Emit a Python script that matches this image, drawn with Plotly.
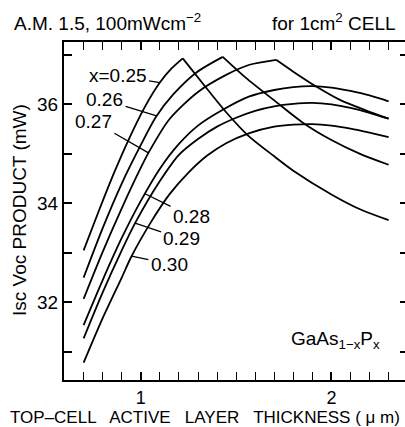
import numpy as np
import plotly.graph_objects as go

# ---- data (thickness in um, Isc*Voc in mW) ----
comp_labels = ["x=0.25", "0.26", "0.27", "0.28", "0.29", "0.30"]

thick_025_rise = [0.70, 0.78, 0.86, 0.94, 1.02, 1.10, 1.16, 1.22]
prod_025_rise = [33.05, 33.85, 34.62, 35.32, 35.94, 36.44, 36.72, 36.93]
thick_025_fall = [1.22, 1.35, 1.45, 1.56, 1.70, 1.80, 2.00, 2.15, 2.30]
prod_025_fall = [36.93, 36.30, 35.83, 35.38, 34.95, 34.66, 34.18, 33.88, 33.66]

thick_026_rise = [0.70, 0.80, 0.90, 1.00, 1.08, 1.17, 1.29, 1.43]
prod_026_rise = [32.50, 33.50, 34.40, 35.18, 35.75, 36.20, 36.64, 36.96]
thick_026_fall = [1.43, 1.55, 1.70, 1.85, 2.00, 2.15, 2.30]
prod_026_fall = [36.96, 36.54, 36.08, 35.63, 35.28, 35.00, 34.78]

thick_027_rise = [0.70, 0.80, 0.90, 1.00, 1.04, 1.15, 1.30, 1.45, 1.57, 1.71]
prod_027_rise = [32.07, 33.02, 33.90, 34.72, 35.02, 35.70, 36.25, 36.60, 36.80, 36.90]
thick_027_fall = [1.71, 1.80, 1.92, 2.05, 2.18, 2.30]
prod_027_fall = [36.90, 36.66, 36.36, 36.08, 35.88, 35.71]

thick_028 = [0.70, 0.80, 0.90, 1.00, 1.10, 1.20, 1.30, 1.43, 1.57, 1.70, 1.80, 1.90, 2.00, 2.10, 2.20, 2.30]
prod_028 = [31.54, 32.45, 33.30, 34.05, 34.70, 35.20, 35.57, 35.89, 36.16, 36.29, 36.35, 36.37, 36.34, 36.27, 36.18, 36.06]

thick_029 = [0.70, 0.80, 0.90, 0.97, 1.10, 1.20, 1.30, 1.40, 1.50, 1.60, 1.70, 1.80, 1.90, 2.00, 2.10, 2.20, 2.30]
prod_029 = [31.27, 32.20, 33.05, 33.60, 34.45, 34.98, 35.30, 35.55, 35.73, 35.87, 35.96, 36.01, 36.03, 36.00, 35.93, 35.83, 35.71]

thick_030 = [0.70, 0.80, 0.90, 0.95, 1.05, 1.15, 1.25, 1.35, 1.45, 1.57, 1.70, 1.80, 1.90, 2.00, 2.10, 2.20, 2.30]
prod_030 = [30.78, 31.68, 32.50, 32.92, 33.60, 34.18, 34.62, 34.97, 35.22, 35.42, 35.55, 35.59, 35.60, 35.57, 35.51, 35.43, 35.34]

# label anchor positions (data units) and the thickness where each leader meets its curve
label_x = [0.878, 0.81, 0.752, 1.266, 1.216, 1.15]
label_y = [36.58, 36.09, 35.66, 33.73, 33.28, 32.77]
leader_tip_x = [1.10, 1.083, 1.04, 1.022, 0.97, 0.952]

x_ticks = [1, 2]
y_ticks = [32, 34, 36]

FONT = "Liberation Sans, Arial, Helvetica, sans-serif"
LINE = dict(color="black", width=1.8, shape="spline", smoothing=0.8)

fig = go.Figure()
segments = [
    (thick_025_rise, prod_025_rise), (thick_025_fall, prod_025_fall),
    (thick_026_rise, prod_026_rise), (thick_026_fall, prod_026_fall),
    (thick_027_rise, prod_027_rise), (thick_027_fall, prod_027_fall),
    (thick_028, prod_028), (thick_029, prod_029), (thick_030, prod_030),
]
for xs, ys in segments:
    fig.add_trace(go.Scatter(x=xs, y=ys, mode="lines", line=LINE,
                             showlegend=False, hoverinfo="skip"))

# dummy trace to activate the right-hand tick axis
fig.add_trace(go.Scatter(x=[None], y=[None], yaxis="y2", showlegend=False))

curve_sets = [
    (thick_025_rise, prod_025_rise), (thick_026_rise, prod_026_rise),
    (thick_027_rise, prod_027_rise), (thick_028, prod_028),
    (thick_029, prod_029), (thick_030, prod_030),
]
annotations = []
for lab, lx, ly, tx, (cx, cy) in zip(comp_labels, label_x, label_y, leader_tip_x, curve_sets):
    ty = float(np.interp(tx, cx, cy))
    annotations.append(dict(
        x=tx, y=ty, xref="x", yref="y", ax=lx, ay=ly, axref="x", ayref="y",
        text=lab, showarrow=True, arrowhead=0, arrowwidth=1.3, arrowcolor="black",
        standoff=0, startstandoff=1,
        font=dict(family=FONT, size=19, color="black")))

def px2paper(px, py):
    return (px - 64) / 341.0, (380 - py) / 338.0

for text, (px, py), xa, ang, size in [
    ("A.M. 1.5, 100mWcm<sup>\u22122</sup>", (12, 22), "left", 0, 19),
    ("for 1cm<sup>2</sup> CELL", (398, 22), "right", 0, 19),
    ("Isc Voc PRODUCT (mW)", (19, 210), "center", -90, 19),
    ("TOP\u2013CELL   ACTIVE   LAYER   THICKNESS ( \u03bc m)", (205, 417), "center", 0, 17),
    ("GaAs<sub>1\u2212x</sub>P<sub>x</sub>", (335, 340), "center", 0, 19),
]:
    xp, yp = px2paper(px, py)
    annotations.append(dict(x=xp, y=yp, xref="paper", yref="paper", text=text,
                            showarrow=False, xanchor=xa, yanchor="middle", textangle=ang,
                            font=dict(family=FONT, size=size, color="black")))

fig.update_layout(
    width=405, height=427,
    margin=dict(l=64, r=0, t=42, b=47),
    paper_bgcolor="white", plot_bgcolor="white",
    font=dict(family=FONT, size=19, color="black"),
    annotations=annotations,
    xaxis=dict(range=[0.597, 2.386], tickvals=x_ticks, ticks="inside", ticklen=8,
               tickwidth=1.5, tickcolor="black", showline=True, linewidth=2,
               linecolor="black", mirror="allticks", showgrid=False, zeroline=False,
               minor=dict(ticks="inside", ticklen=4, dtick=0.1, tick0=0,
                          tickwidth=1.3, tickcolor="black", showgrid=False),
               tickfont=dict(family=FONT, size=18)),
    yaxis=dict(range=[30.43, 37.26], tickvals=y_ticks, ticks="inside", ticklen=8,
               tickwidth=1.5, tickcolor="black", showline=True, linewidth=2,
               linecolor="black", mirror=False, showgrid=False, zeroline=False,
               minor=dict(ticks="inside", ticklen=8, dtick=1, tick0=0,
                          tickwidth=1.5, tickcolor="black", showgrid=False),
               tickfont=dict(family=FONT, size=19)),
    yaxis2=dict(range=[30.43, 37.26], overlaying="y", side="right", showline=False,
                ticks="inside", ticklen=5, tickwidth=1.5, tickcolor="black",
                dtick=1, tick0=0, showticklabels=False, showgrid=False, zeroline=False),
)

fig.write_html("out.html",
               config={"displayModeBar": False},
               post_script="document.body.style.margin='0px';"
                           "document.body.style.overflow='hidden';")
